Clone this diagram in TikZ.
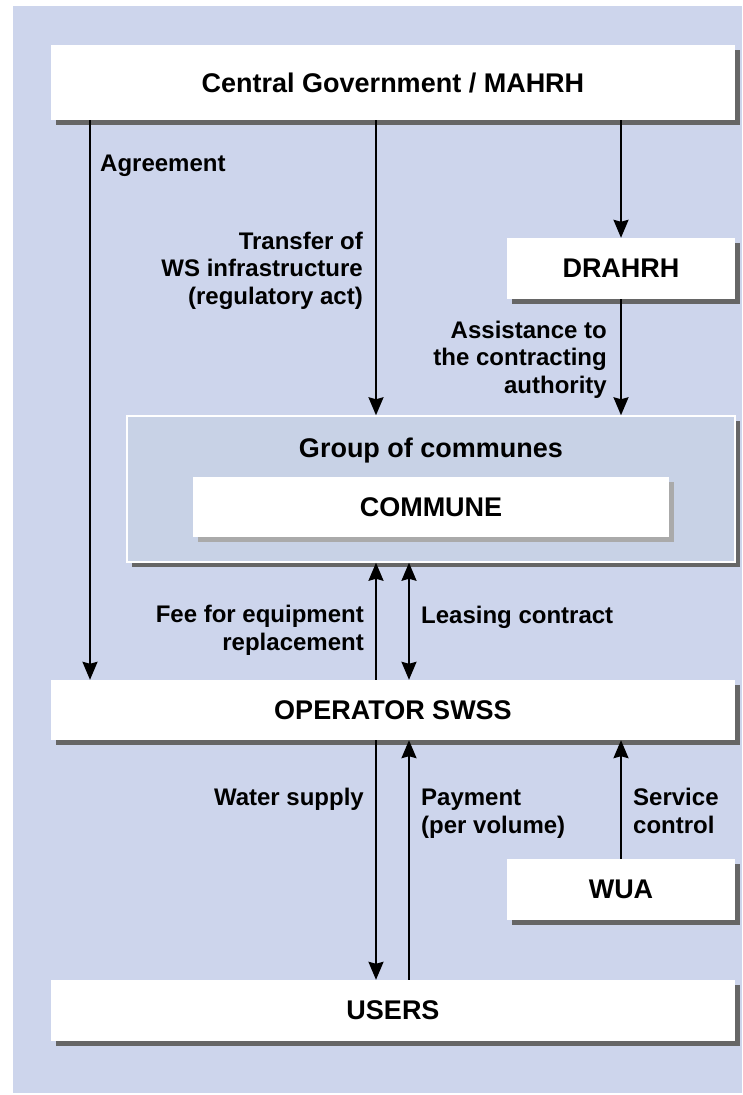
\documentclass[tikz,border=0pt]{standalone}
\usepackage{fontspec}
\setmainfont{Liberation Sans}
\usetikzlibrary{arrows.meta,shadows}
\definecolor{bgblue}{RGB}{205,213,236}
\definecolor{grpblue}{RGB}{200,210,230}
\definecolor{shadowdark}{RGB}{102,102,102}
\definecolor{shadowlight}{RGB}{170,170,170}
\tikzset{
  box/.style={draw=none, fill=white, inner sep=0pt, font=\fontsize{27}{30}\selectfont\bfseries,
    drop shadow={shadow xshift=5pt, shadow yshift=-5pt, fill=shadowdark, opacity=1}},
  lightbox/.style={box, drop shadow={shadow xshift=5pt, shadow yshift=-5pt, fill=shadowlight, opacity=1}},
  groupbox/.style={draw=white, line width=1.5pt, fill=grpblue, inner sep=0pt,
    drop shadow={shadow xshift=5pt, shadow yshift=-5pt, fill=shadowdark, opacity=1}},
  lbl/.style={inner sep=0pt, font=\fontsize{24}{27.5}\selectfont\bfseries},
  arr/.style={line width=2pt, -{Stealth[length=18pt, width=15pt, inset=2pt]}},
  dblarr/.style={line width=2pt, {Stealth[length=18pt, width=15pt, inset=2pt]}-{Stealth[length=18pt, width=15pt, inset=2pt]}},
}
\begin{document}
\begin{tikzpicture}[x=1pt, y=-1pt]
  \useasboundingbox (0,0) rectangle (742,1095);
  \fill[bgblue] (13,6) rectangle (742,1093);

  % organisations
  \node[box, minimum width=684pt, minimum height=75pt] (central) at (393,82.5) {Central Government / MAHRH};
  \node[box, minimum width=228pt, minimum height=61pt] (drahrh) at (621,268.5) {DRAHRH};
  \node[groupbox, minimum width=608pt, minimum height=146pt] (group) at (431,489) {};
  \node[lbl, font=\fontsize{27}{30}\selectfont\bfseries, anchor=base] (grouptitle) at (431,457) {Group of communes};
  \node[lightbox, minimum width=476pt, minimum height=60pt] (commune) at (431,507) {COMMUNE};
  \node[box, minimum width=684pt, minimum height=60pt] (operator) at (393,710) {OPERATOR SWSS};
  \node[box, minimum width=228pt, minimum height=61pt] (wua) at (621,889.5) {WUA};
  \node[box, minimum width=684pt, minimum height=61pt] (users) at (393,1010.5) {USERS};

  % connector columns
  \coordinate (xa) at (90,0);
  \coordinate (xb) at (376,0);
  \coordinate (xc) at (409,0);
  \coordinate (xd) at (621,0);

  % connectors
  \draw[arr] (central.south -| xa) -- (operator.north -| xa);
  \draw[arr] (central.south -| xb) -- (group.north -| xb);
  \draw[arr] (central.south -| xd) -- (drahrh.north -| xd);
  \draw[arr] (drahrh.south -| xd) -- (group.north -| xd);
  \draw[arr] (operator.north -| xb) -- (group.south -| xb);
  \draw[dblarr] (operator.north -| xc) -- (group.south -| xc);
  \draw[arr] (operator.south -| xb) -- (users.north -| xb);
  \draw[arr] (users.north -| xc) -- (operator.south -| xc);
  \draw[arr] (wua.north -| xd) -- (operator.south -| xd);

  % connector labels (multi-line labels are placed by their last baseline)
  \node[lbl, anchor=base west] (l1) at (100,171) {Agreement};
  \node[lbl, anchor=base east, align=right] (l2) at (363,304) {Transfer of\\WS infrastructure\\(regulatory act)};
  \node[lbl, anchor=base east, align=right] (l3) at (607,393) {Assistance to\\the contracting\\authority};
  \node[lbl, anchor=base east, align=right] (l4) at (364,650) {Fee for equipment\\replacement};
  \node[lbl, anchor=base west] (l5) at (421,623) {Leasing contract};
  \node[lbl, anchor=base east] (l6) at (364,805) {Water supply};
  \node[lbl, anchor=base west, align=left] (l7) at (421,833) {Payment\\(per volume)};
  \node[lbl, anchor=base west, align=left] (l8) at (633,833) {Service\\control};
\end{tikzpicture}
\end{document}
